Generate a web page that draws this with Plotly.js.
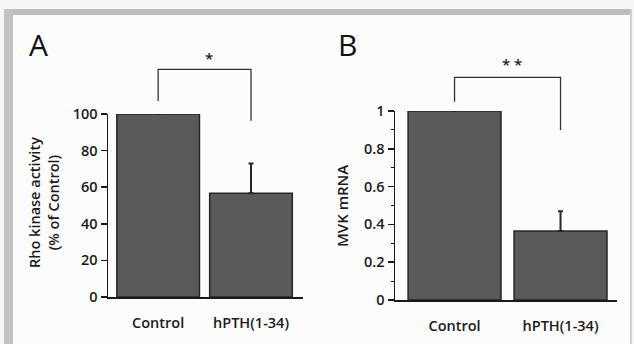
<!DOCTYPE html>
<html>
<head>
<meta charset="utf-8">
<script src="https://cdn.plot.ly/plotly-3.0.1.min.js"></script>
<style>html,body{margin:0;padding:0;background:#f6f6f6;}#chart{width:634px;height:344px;}</style>
</head>
<body>
<div id="chart"></div>
<script>
// ---- data ----
const categories = ['Control', 'hPTH(1-34)'];
const rhoKinase = [100, 56.7];
const rhoKinaseErr = [0, 16.3];
const mvkMrna = [1.0, 0.365];
const mvkMrnaErr = [0, 0.105];
const yTicksA = [0, 20, 40, 60, 80, 100];
const yTickLabelsA = ['0', '20', '40', '60', '80', '100'];
const yTicksB = [0, 0.2, 0.4, 0.6, 0.8, 1];
const yTickLabelsB = ['0', '0.2', '0.4', '0.6', '0.8', '1'];
const panelLabels = ['A', 'B'];
const sigA = '*';
const sigB = '* *';
const yTitleA = 'Rho kinase activity<br>(% of Control)';
const yTitleB = 'MVK mRNA';

// ---- styling ----
const W = 634, H = 344;
const px = v => v / W;
const py = v => 1 - v / H;
const FONT = 'Open Sans, Liberation Sans, Arial, sans-serif';
const INK = '#1a1a1a';
const WT = 600;
const barFill = '#5a5a5a';
const barLine = '#262626';

const traces = [
  {
    type: 'bar', x: [0, 1], y: rhoKinase, xaxis: 'x', yaxis: 'y', width: 0.89,
    marker: {color: barFill, line: {color: barLine, width: 1.5}},
    error_y: {type: 'data', symmetric: false, array: rhoKinaseErr, arrayminus: [0, 0],
              color: '#262626', thickness: 2, width: 2.5},
    hoverinfo: 'skip'
  },
  {
    type: 'bar', x: [0, 1], y: mvkMrna, xaxis: 'x2', yaxis: 'y2', width: 0.877,
    marker: {color: barFill, line: {color: barLine, width: 1.5}},
    error_y: {type: 'data', symmetric: false, array: mvkMrnaErr, arrayminus: [0, 0],
              color: '#262626', thickness: 2, width: 2.5},
    hoverinfo: 'skip'
  }
];

const xCommon = {
  tickmode: 'array', tickvals: [0, 1], ticktext: categories,
  ticks: '', showline: true, linecolor: INK, linewidth: 1.5, zeroline: false,
  showgrid: false, tickfont: {family: FONT, size: 14.5, color: INK, weight: WT},
  ticklabelstandoff: 12, fixedrange: true
};
const yCommon = {
  showline: true, linecolor: INK, linewidth: 1.5, zeroline: false, showgrid: false,
  ticks: 'outside', ticklen: 6, tickwidth: 1.5, tickcolor: INK,
  tickfont: {family: FONT, size: 14.5, color: INK, weight: WT}, tickmode: 'array', fixedrange: true
};

const layout = {
  width: W, height: H,
  margin: {l: 0, r: 0, t: 0, b: 0},
  paper_bgcolor: '#f6f6f6', plot_bgcolor: 'rgba(0,0,0,0)',
  showlegend: false, bargap: 0,
  xaxis: Object.assign({}, xCommon, {domain: [px(108), px(303)], range: [-0.54, 1.56], anchor: 'y'}),
  yaxis: Object.assign({}, yCommon, {domain: [py(297), py(114)], range: [0, 100],
                        tickvals: yTicksA, ticktext: yTickLabelsA, anchor: 'x'}),
  xaxis2: Object.assign({}, xCommon, {domain: [px(395), px(617)], range: [-0.562, 1.533], anchor: 'y2'}),
  yaxis2: Object.assign({}, yCommon, {domain: [py(300), py(111)], range: [0, 1],
                        tickvals: yTicksB, ticktext: yTickLabelsB, anchor: 'x2',
                        minor: {dtick: 0.1, ticks: 'outside', ticklen: 3, tickwidth: 1, tickcolor: INK}}),
  shapes: [
    // scanned frame
    {type: 'rect', xref: 'paper', yref: 'paper', x0: px(13), x1: px(630), y0: 0, y1: py(15),
     fillcolor: '#fcfcfc', line: {width: 0}, layer: 'below'},
    {type: 'rect', xref: 'paper', yref: 'paper', x0: px(4), x1: px(632), y0: py(15), y1: py(9),
     fillcolor: '#bdbdbd', line: {width: 0}, layer: 'below'},
    {type: 'rect', xref: 'paper', yref: 'paper', x0: px(4), x1: px(13), y0: 0, y1: py(9),
     fillcolor: '#c2c2c2', line: {width: 0}, layer: 'below'},
    {type: 'rect', xref: 'paper', yref: 'paper', x0: px(630), x1: px(632), y0: 0, y1: py(9),
     fillcolor: '#d0d0d0', line: {width: 0}, layer: 'below'},
    // significance bracket A
    {type: 'path', xref: 'x', yref: 'paper',
     path: `M 0,${py(101)} L 0,${py(69.3)} L 1,${py(69.3)} L 1,${py(120.7)}`,
     line: {color: '#333', width: 1.3}},
    // significance bracket B
    {type: 'path', xref: 'x2', yref: 'paper',
     path: `M 0,${py(101.7)} L 0,${py(77.3)} L 1,${py(77.3)} L 1,${py(130)}`,
     line: {color: '#333', width: 1.3}}
  ],
  annotations: [
    {text: panelLabels[0], xref: 'paper', yref: 'paper', x: px(38), y: py(44), showarrow: false,
     font: {family: FONT, size: 30, color: '#111'}, xanchor: 'center', yanchor: 'middle'},
    {text: panelLabels[1], xref: 'paper', yref: 'paper', x: px(347), y: py(44), showarrow: false,
     font: {family: FONT, size: 30, color: '#111'}, xanchor: 'center', yanchor: 'middle'},
    {text: sigA, xref: 'paper', yref: 'paper', x: px(209), y: py(58), showarrow: false,
     font: {family: FONT, size: 15, color: INK, weight: WT}, xanchor: 'center', yanchor: 'middle'},
    {text: sigB, xref: 'paper', yref: 'paper', x: px(512), y: py(64), showarrow: false,
     font: {family: FONT, size: 15, color: INK, weight: WT}, xanchor: 'center', yanchor: 'middle'},
    {text: yTitleA, xref: 'paper', yref: 'paper', x: px(44), y: py(203), showarrow: false,
     textangle: -90, font: {family: FONT, size: 14.5, color: INK, weight: WT}, xanchor: 'center', yanchor: 'middle'},
    {text: yTitleB, xref: 'paper', yref: 'paper', x: px(342), y: py(206), showarrow: false,
     textangle: -90, font: {family: FONT, size: 15, color: INK, weight: WT}, xanchor: 'center', yanchor: 'middle'}
  ]
};

Plotly.newPlot('chart', traces, layout, {staticPlot: true, displayModeBar: false});
</script>
</body>
</html>
